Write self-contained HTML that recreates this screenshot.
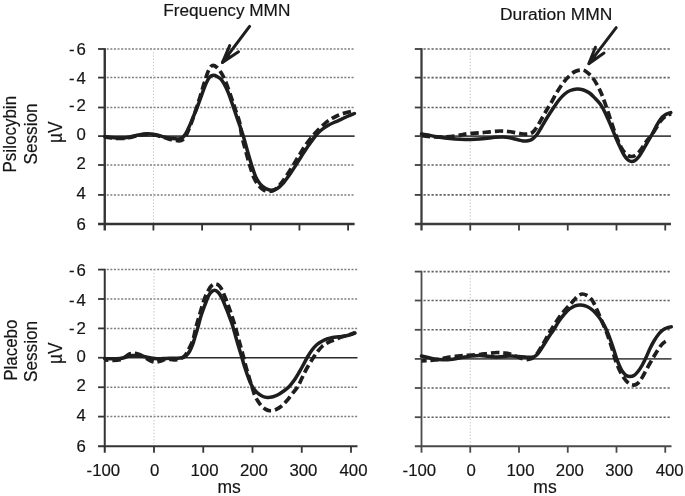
<!DOCTYPE html>
<html lang="en"><head><meta charset="utf-8"><title>MMN waveforms</title>
<style>html,body{margin:0;padding:0;background:#fff}svg{display:block}</style></head>
<body>
<svg width="685" height="496" viewBox="0 0 685 496" font-family="'Liberation Sans', Arial, Helvetica, sans-serif" fill="#151515">
<rect width="685" height="496" fill="#fff"/>
<line x1="106.75" y1="49.00" x2="354.60" y2="49.00" stroke="#7e7e7e" stroke-width="1.5" stroke-dasharray="2 1.6"/>
<line x1="106.75" y1="77.60" x2="354.60" y2="77.60" stroke="#7e7e7e" stroke-width="1.5" stroke-dasharray="2 1.6"/>
<line x1="106.75" y1="107.50" x2="354.60" y2="107.50" stroke="#7e7e7e" stroke-width="1.5" stroke-dasharray="2 1.6"/>
<line x1="106.75" y1="165.00" x2="354.60" y2="165.00" stroke="#7e7e7e" stroke-width="1.5" stroke-dasharray="2 1.6"/>
<line x1="106.75" y1="194.90" x2="354.60" y2="194.90" stroke="#7e7e7e" stroke-width="1.5" stroke-dasharray="2 1.6"/>
<line x1="153.42" y1="49.00" x2="153.42" y2="224.00" stroke="#c2c2c2" stroke-width="1" stroke-dasharray="1.3 1.9"/>
<line x1="104.75" y1="136.10" x2="354.60" y2="136.10" stroke="#3c3c3c" stroke-width="1.7"/>
<line x1="104.75" y1="48.20" x2="104.75" y2="230.50" stroke="#333" stroke-width="2.40"/>
<line x1="98.05" y1="224.00" x2="354.60" y2="224.00" stroke="#333" stroke-width="2.40"/>
<line x1="98.05" y1="49.00" x2="104.75" y2="49.00" stroke="#333" stroke-width="1.8"/>
<line x1="98.05" y1="77.60" x2="104.75" y2="77.60" stroke="#333" stroke-width="1.8"/>
<line x1="98.05" y1="107.50" x2="104.75" y2="107.50" stroke="#333" stroke-width="1.8"/>
<line x1="98.05" y1="136.10" x2="104.75" y2="136.10" stroke="#333" stroke-width="1.8"/>
<line x1="98.05" y1="165.00" x2="104.75" y2="165.00" stroke="#333" stroke-width="1.8"/>
<line x1="98.05" y1="194.90" x2="104.75" y2="194.90" stroke="#333" stroke-width="1.8"/>
<line x1="153.42" y1="224.00" x2="153.42" y2="230.50" stroke="#333" stroke-width="1.8"/>
<line x1="202.09" y1="224.00" x2="202.09" y2="230.50" stroke="#333" stroke-width="1.8"/>
<line x1="250.76" y1="224.00" x2="250.76" y2="230.50" stroke="#333" stroke-width="1.8"/>
<line x1="299.43" y1="224.00" x2="299.43" y2="230.50" stroke="#333" stroke-width="1.8"/>
<line x1="348.10" y1="224.00" x2="348.10" y2="230.50" stroke="#333" stroke-width="1.8"/>
<line x1="423.50" y1="49.00" x2="671.00" y2="49.00" stroke="#606060" stroke-width="1.6" stroke-dasharray="2.2 1.8"/>
<line x1="423.50" y1="77.60" x2="671.00" y2="77.60" stroke="#606060" stroke-width="1.6" stroke-dasharray="2.2 1.8"/>
<line x1="423.50" y1="107.50" x2="671.00" y2="107.50" stroke="#606060" stroke-width="1.6" stroke-dasharray="2.2 1.8"/>
<line x1="423.50" y1="165.00" x2="671.00" y2="165.00" stroke="#606060" stroke-width="1.6" stroke-dasharray="2.2 1.8"/>
<line x1="423.50" y1="194.90" x2="671.00" y2="194.90" stroke="#606060" stroke-width="1.6" stroke-dasharray="2.2 1.8"/>
<line x1="470.25" y1="49.00" x2="470.25" y2="224.00" stroke="#c2c2c2" stroke-width="1" stroke-dasharray="1.3 1.9"/>
<line x1="421.50" y1="136.10" x2="671.00" y2="136.10" stroke="#444" stroke-width="1.7"/>
<line x1="421.50" y1="48.20" x2="421.50" y2="230.50" stroke="#3c3c3c" stroke-width="2.30"/>
<line x1="414.80" y1="224.00" x2="671.00" y2="224.00" stroke="#3c3c3c" stroke-width="2.30"/>
<line x1="414.80" y1="49.00" x2="421.50" y2="49.00" stroke="#3c3c3c" stroke-width="1.8"/>
<line x1="414.80" y1="77.60" x2="421.50" y2="77.60" stroke="#3c3c3c" stroke-width="1.8"/>
<line x1="414.80" y1="107.50" x2="421.50" y2="107.50" stroke="#3c3c3c" stroke-width="1.8"/>
<line x1="414.80" y1="136.10" x2="421.50" y2="136.10" stroke="#3c3c3c" stroke-width="1.8"/>
<line x1="414.80" y1="165.00" x2="421.50" y2="165.00" stroke="#3c3c3c" stroke-width="1.8"/>
<line x1="414.80" y1="194.90" x2="421.50" y2="194.90" stroke="#3c3c3c" stroke-width="1.8"/>
<line x1="470.25" y1="224.00" x2="470.25" y2="230.50" stroke="#3c3c3c" stroke-width="1.8"/>
<line x1="519.00" y1="224.00" x2="519.00" y2="230.50" stroke="#3c3c3c" stroke-width="1.8"/>
<line x1="567.75" y1="224.00" x2="567.75" y2="230.50" stroke="#3c3c3c" stroke-width="1.8"/>
<line x1="616.50" y1="224.00" x2="616.50" y2="230.50" stroke="#3c3c3c" stroke-width="1.8"/>
<line x1="665.25" y1="224.00" x2="665.25" y2="230.50" stroke="#3c3c3c" stroke-width="1.8"/>
<line x1="106.75" y1="269.60" x2="357.50" y2="269.60" stroke="#7e7e7e" stroke-width="1.5" stroke-dasharray="2 1.6"/>
<line x1="106.75" y1="299.00" x2="357.50" y2="299.00" stroke="#7e7e7e" stroke-width="1.5" stroke-dasharray="2 1.6"/>
<line x1="106.75" y1="328.40" x2="357.50" y2="328.40" stroke="#7e7e7e" stroke-width="1.5" stroke-dasharray="2 1.6"/>
<line x1="106.75" y1="387.25" x2="357.50" y2="387.25" stroke="#7e7e7e" stroke-width="1.5" stroke-dasharray="2 1.6"/>
<line x1="106.75" y1="416.60" x2="357.50" y2="416.60" stroke="#7e7e7e" stroke-width="1.5" stroke-dasharray="2 1.6"/>
<line x1="154.00" y1="269.60" x2="154.00" y2="446.25" stroke="#c2c2c2" stroke-width="1" stroke-dasharray="1.3 1.9"/>
<line x1="104.75" y1="357.75" x2="357.50" y2="357.75" stroke="#2a2a2a" stroke-width="1.7"/>
<line x1="104.75" y1="268.80" x2="104.75" y2="452.75" stroke="#333" stroke-width="2.00"/>
<line x1="98.05" y1="446.25" x2="357.50" y2="446.25" stroke="#333" stroke-width="2.00"/>
<line x1="98.05" y1="269.60" x2="104.75" y2="269.60" stroke="#333" stroke-width="1.8"/>
<line x1="98.05" y1="299.00" x2="104.75" y2="299.00" stroke="#333" stroke-width="1.8"/>
<line x1="98.05" y1="328.40" x2="104.75" y2="328.40" stroke="#333" stroke-width="1.8"/>
<line x1="98.05" y1="357.75" x2="104.75" y2="357.75" stroke="#333" stroke-width="1.8"/>
<line x1="98.05" y1="387.25" x2="104.75" y2="387.25" stroke="#333" stroke-width="1.8"/>
<line x1="98.05" y1="416.60" x2="104.75" y2="416.60" stroke="#333" stroke-width="1.8"/>
<line x1="154.00" y1="446.25" x2="154.00" y2="452.75" stroke="#333" stroke-width="1.8"/>
<line x1="203.25" y1="446.25" x2="203.25" y2="452.75" stroke="#333" stroke-width="1.8"/>
<line x1="252.50" y1="446.25" x2="252.50" y2="452.75" stroke="#333" stroke-width="1.8"/>
<line x1="301.75" y1="446.25" x2="301.75" y2="452.75" stroke="#333" stroke-width="1.8"/>
<line x1="351.00" y1="446.25" x2="351.00" y2="452.75" stroke="#333" stroke-width="1.8"/>
<line x1="423.50" y1="271.60" x2="671.50" y2="271.60" stroke="#606060" stroke-width="1.6" stroke-dasharray="2.2 1.8"/>
<line x1="423.50" y1="300.50" x2="671.50" y2="300.50" stroke="#606060" stroke-width="1.6" stroke-dasharray="2.2 1.8"/>
<line x1="423.50" y1="329.80" x2="671.50" y2="329.80" stroke="#606060" stroke-width="1.6" stroke-dasharray="2.2 1.8"/>
<line x1="423.50" y1="388.00" x2="671.50" y2="388.00" stroke="#606060" stroke-width="1.6" stroke-dasharray="2.2 1.8"/>
<line x1="423.50" y1="417.20" x2="671.50" y2="417.20" stroke="#606060" stroke-width="1.6" stroke-dasharray="2.2 1.8"/>
<line x1="470.25" y1="271.60" x2="470.25" y2="446.25" stroke="#c2c2c2" stroke-width="1" stroke-dasharray="1.3 1.9"/>
<line x1="421.50" y1="358.90" x2="671.50" y2="358.90" stroke="#505050" stroke-width="1.7"/>
<line x1="421.50" y1="270.80" x2="421.50" y2="452.75" stroke="#4a4a4a" stroke-width="1.80"/>
<line x1="414.80" y1="446.25" x2="671.50" y2="446.25" stroke="#4a4a4a" stroke-width="1.80"/>
<line x1="414.80" y1="271.60" x2="421.50" y2="271.60" stroke="#4a4a4a" stroke-width="1.8"/>
<line x1="414.80" y1="300.50" x2="421.50" y2="300.50" stroke="#4a4a4a" stroke-width="1.8"/>
<line x1="414.80" y1="329.80" x2="421.50" y2="329.80" stroke="#4a4a4a" stroke-width="1.8"/>
<line x1="414.80" y1="358.90" x2="421.50" y2="358.90" stroke="#4a4a4a" stroke-width="1.8"/>
<line x1="414.80" y1="388.00" x2="421.50" y2="388.00" stroke="#4a4a4a" stroke-width="1.8"/>
<line x1="414.80" y1="417.20" x2="421.50" y2="417.20" stroke="#4a4a4a" stroke-width="1.8"/>
<line x1="470.25" y1="446.25" x2="470.25" y2="452.75" stroke="#4a4a4a" stroke-width="1.8"/>
<line x1="519.00" y1="446.25" x2="519.00" y2="452.75" stroke="#4a4a4a" stroke-width="1.8"/>
<line x1="567.75" y1="446.25" x2="567.75" y2="452.75" stroke="#4a4a4a" stroke-width="1.8"/>
<line x1="616.50" y1="446.25" x2="616.50" y2="452.75" stroke="#4a4a4a" stroke-width="1.8"/>
<line x1="665.25" y1="446.25" x2="665.25" y2="452.75" stroke="#4a4a4a" stroke-width="1.8"/>
<path d="M104.75,137.00C105.96,137.17 109.12,137.75 112.00,138.00C114.88,138.25 119.00,138.58 122.00,138.50C125.00,138.42 127.33,138.00 130.00,137.50C132.67,137.00 135.17,136.03 138.00,135.50C140.83,134.97 144.00,134.33 147.00,134.30C150.00,134.27 153.00,134.72 156.00,135.30C159.00,135.88 162.33,137.05 165.00,137.80C167.67,138.55 169.67,139.30 172.00,139.80C174.33,140.30 177.17,140.85 179.00,140.80C180.83,140.75 181.75,140.55 183.00,139.50C184.25,138.45 185.33,136.67 186.50,134.50C187.67,132.33 188.83,129.42 190.00,126.50C191.17,123.58 192.33,120.33 193.50,117.00C194.67,113.67 195.92,109.83 197.00,106.50C198.08,103.17 199.00,100.25 200.00,97.00C201.00,93.75 202.00,90.25 203.00,87.00C204.00,83.75 205.00,80.42 206.00,77.50C207.00,74.58 207.92,71.50 209.00,69.50C210.08,67.50 211.17,65.83 212.50,65.50C213.83,65.17 215.58,66.33 217.00,67.50C218.42,68.67 219.75,70.58 221.00,72.50C222.25,74.42 223.33,76.42 224.50,79.00C225.67,81.58 226.83,84.83 228.00,88.00C229.17,91.17 230.33,94.58 231.50,98.00C232.67,101.42 233.67,104.50 235.00,108.50C236.33,112.50 238.37,117.42 239.50,122.00C240.63,126.58 240.78,131.25 241.80,136.00C242.82,140.75 244.30,145.67 245.60,150.50C246.90,155.33 248.23,160.50 249.60,165.00C250.97,169.50 252.35,174.17 253.80,177.50C255.25,180.83 256.68,182.95 258.30,185.00C259.92,187.05 261.63,188.72 263.50,189.80C265.37,190.88 267.53,191.55 269.50,191.50C271.47,191.45 273.38,190.83 275.30,189.50C277.22,188.17 279.05,185.92 281.00,183.50C282.95,181.08 285.00,178.00 287.00,175.00C289.00,172.00 291.00,168.75 293.00,165.50C295.00,162.25 296.83,159.00 299.00,155.50C301.17,152.00 303.58,147.92 306.00,144.50C308.42,141.08 311.33,137.58 313.50,135.00C315.67,132.42 316.98,131.03 319.00,129.00C321.02,126.97 323.60,124.47 325.60,122.80C327.60,121.13 329.23,120.10 331.00,119.00C332.77,117.90 334.42,117.05 336.25,116.20C338.08,115.35 339.92,114.60 342.00,113.90C344.08,113.20 346.68,112.50 348.75,112.00C350.82,111.50 353.46,111.08 354.40,110.90" fill="none" stroke="#1e1e1e" stroke-width="3.7" stroke-linecap="butt" stroke-linejoin="round" stroke-dasharray="8.3 3.9" stroke-dashoffset="0.9"/>
<path d="M104.75,136.50C105.96,136.67 109.12,137.25 112.00,137.50C114.88,137.75 119.00,138.08 122.00,138.00C125.00,137.92 127.33,137.50 130.00,137.00C132.67,136.50 135.17,135.53 138.00,135.00C140.83,134.47 144.00,133.83 147.00,133.80C150.00,133.77 153.00,134.23 156.00,134.80C159.00,135.37 162.33,136.60 165.00,137.20C167.67,137.80 169.83,138.12 172.00,138.40C174.17,138.68 176.33,138.97 178.00,138.90C179.67,138.83 180.75,138.82 182.00,138.00C183.25,137.18 184.33,135.83 185.50,134.00C186.67,132.17 187.75,129.75 189.00,127.00C190.25,124.25 191.58,120.92 193.00,117.50C194.42,114.08 196.17,109.92 197.50,106.50C198.83,103.08 199.92,100.00 201.00,97.00C202.08,94.00 203.00,91.08 204.00,88.50C205.00,85.92 206.00,83.45 207.00,81.50C208.00,79.55 208.95,77.83 210.00,76.80C211.05,75.77 212.13,75.35 213.30,75.30C214.47,75.25 215.55,75.63 217.00,76.50C218.45,77.37 220.17,77.92 222.00,80.50C223.83,83.08 226.08,87.50 228.00,92.00C229.92,96.50 231.75,102.50 233.50,107.50C235.25,112.50 236.87,117.25 238.50,122.00C240.13,126.75 241.83,131.25 243.30,136.00C244.77,140.75 245.92,145.67 247.30,150.50C248.68,155.33 250.15,160.50 251.60,165.00C253.05,169.50 254.52,174.28 256.00,177.50C257.48,180.72 258.87,182.45 260.50,184.30C262.13,186.15 263.97,187.62 265.80,188.60C267.63,189.58 269.58,190.22 271.50,190.20C273.42,190.18 275.33,189.70 277.30,188.50C279.27,187.30 281.30,185.25 283.30,183.00C285.30,180.75 287.30,177.83 289.30,175.00C291.30,172.17 293.30,169.08 295.30,166.00C297.30,162.92 299.10,159.92 301.30,156.50C303.50,153.08 306.01,149.08 308.50,145.50C310.99,141.92 314.00,137.67 316.25,135.00C318.50,132.33 319.92,131.17 322.00,129.50C324.08,127.83 326.58,126.25 328.75,125.00C330.92,123.75 332.92,122.93 335.00,122.00C337.08,121.07 339.25,120.32 341.25,119.40C343.25,118.48 344.81,117.48 347.00,116.50C349.19,115.52 353.17,114.00 354.40,113.50" fill="none" stroke="#1e1e1e" stroke-width="3.5" stroke-linecap="round" stroke-linejoin="round"/>
<path d="M421.50,135.50C422.58,135.67 425.75,136.25 428.00,136.50C430.25,136.75 432.17,136.92 435.00,137.00C437.83,137.08 441.67,137.17 445.00,137.00C448.33,136.83 452.00,136.42 455.00,136.00C458.00,135.58 460.50,134.92 463.00,134.50C465.50,134.08 467.17,133.78 470.00,133.50C472.83,133.22 476.67,133.08 480.00,132.80C483.33,132.52 486.67,132.10 490.00,131.80C493.33,131.50 497.00,131.05 500.00,131.00C503.00,130.95 505.33,131.20 508.00,131.50C510.67,131.80 513.50,132.38 516.00,132.80C518.50,133.22 520.92,133.80 523.00,134.00C525.08,134.20 526.83,134.33 528.50,134.00C530.17,133.67 531.50,133.33 533.00,132.00C534.50,130.67 535.83,128.58 537.50,126.00C539.17,123.42 541.42,119.25 543.00,116.50C544.58,113.75 545.67,111.75 547.00,109.50C548.33,107.25 549.42,105.75 551.00,103.00C552.58,100.25 554.50,96.33 556.50,93.00C558.50,89.67 560.87,85.83 563.00,83.00C565.13,80.17 567.30,77.92 569.30,76.00C571.30,74.08 573.05,72.50 575.00,71.50C576.95,70.50 579.17,70.00 581.00,70.00C582.83,70.00 584.08,70.25 586.00,71.50C587.92,72.75 590.50,75.00 592.50,77.50C594.50,80.00 596.42,83.58 598.00,86.50C599.58,89.42 600.67,91.75 602.00,95.00C603.33,98.25 604.67,102.17 606.00,106.00C607.33,109.83 608.67,114.00 610.00,118.00C611.33,122.00 612.83,126.67 614.00,130.00C615.17,133.33 615.83,135.17 617.00,138.00C618.17,140.83 619.67,144.50 621.00,147.00C622.33,149.50 623.67,151.50 625.00,153.00C626.33,154.50 627.83,155.42 629.00,156.00C630.17,156.58 631.00,156.58 632.00,156.50C633.00,156.42 633.83,156.25 635.00,155.50C636.17,154.75 637.67,153.50 639.00,152.00C640.33,150.50 641.67,148.42 643.00,146.50C644.33,144.58 645.53,142.42 647.00,140.50C648.47,138.58 650.22,137.17 651.80,135.00C653.38,132.83 654.97,129.92 656.50,127.50C658.03,125.08 659.42,122.42 661.00,120.50C662.58,118.58 664.33,117.12 666.00,116.00C667.67,114.88 670.17,114.17 671.00,113.80" fill="none" stroke="#1e1e1e" stroke-width="3.7" stroke-linecap="butt" stroke-linejoin="round" stroke-dasharray="8.3 3.9" stroke-dashoffset="11.7"/>
<path d="M421.50,134.00C422.58,134.17 425.75,134.58 428.00,135.00C430.25,135.42 432.17,136.00 435.00,136.50C437.83,137.00 441.67,137.58 445.00,138.00C448.33,138.42 451.67,138.75 455.00,139.00C458.33,139.25 461.67,139.45 465.00,139.50C468.33,139.55 471.67,139.47 475.00,139.30C478.33,139.13 481.67,138.83 485.00,138.50C488.33,138.17 492.00,137.55 495.00,137.30C498.00,137.05 500.50,136.92 503.00,137.00C505.50,137.08 507.67,137.38 510.00,137.80C512.33,138.22 514.83,138.97 517.00,139.50C519.17,140.03 521.17,140.78 523.00,141.00C524.83,141.22 526.42,141.13 528.00,140.80C529.58,140.47 531.00,140.05 532.50,139.00C534.00,137.95 535.58,136.33 537.00,134.50C538.42,132.67 539.30,130.83 541.00,128.00C542.70,125.17 545.08,120.92 547.20,117.50C549.32,114.08 551.73,110.42 553.70,107.50C555.67,104.58 557.17,102.25 559.00,100.00C560.83,97.75 562.82,95.58 564.70,94.00C566.58,92.42 568.25,91.33 570.30,90.50C572.35,89.67 574.80,89.08 577.00,89.00C579.20,88.92 581.42,89.33 583.50,90.00C585.58,90.67 587.53,91.58 589.50,93.00C591.47,94.42 593.52,96.67 595.30,98.50C597.08,100.33 598.83,102.17 600.20,104.00C601.57,105.83 602.20,107.00 603.50,109.50C604.80,112.00 606.53,115.75 608.00,119.00C609.47,122.25 611.05,126.00 612.30,129.00C613.55,132.00 614.22,134.00 615.50,137.00C616.78,140.00 618.58,144.00 620.00,147.00C621.42,150.00 622.67,152.83 624.00,155.00C625.33,157.17 626.75,158.92 628.00,160.00C629.25,161.08 630.33,161.42 631.50,161.50C632.67,161.58 633.75,161.33 635.00,160.50C636.25,159.67 637.67,158.25 639.00,156.50C640.33,154.75 641.67,152.25 643.00,150.00C644.33,147.75 645.67,145.29 647.00,143.00C648.33,140.71 649.55,138.87 651.00,136.25C652.45,133.63 654.15,130.09 655.70,127.30C657.25,124.51 658.70,121.58 660.30,119.50C661.90,117.42 663.55,115.95 665.30,114.80C667.05,113.65 669.88,112.97 670.80,112.60" fill="none" stroke="#1e1e1e" stroke-width="3.5" stroke-linecap="round" stroke-linejoin="round"/>
<path d="M104.75,360.00C105.96,360.05 109.46,360.33 112.00,360.30C114.54,360.27 117.83,360.35 120.00,359.80C122.17,359.25 123.50,357.92 125.00,357.00C126.50,356.08 127.67,354.92 129.00,354.30C130.33,353.68 131.50,353.35 133.00,353.30C134.50,353.25 136.17,353.42 138.00,354.00C139.83,354.58 142.00,355.72 144.00,356.80C146.00,357.88 148.17,359.58 150.00,360.50C151.83,361.42 153.33,362.17 155.00,362.30C156.67,362.43 158.33,361.77 160.00,361.30C161.67,360.83 163.33,359.83 165.00,359.50C166.67,359.17 168.33,359.25 170.00,359.30C171.67,359.35 173.50,359.80 175.00,359.80C176.50,359.80 177.58,359.77 179.00,359.30C180.42,358.83 182.25,357.97 183.50,357.00C184.75,356.03 185.53,355.00 186.50,353.50C187.47,352.00 188.42,349.75 189.30,348.00C190.18,346.25 191.05,344.83 191.80,343.00C192.55,341.17 193.10,339.67 193.80,337.00C194.50,334.33 195.05,330.67 196.00,327.00C196.95,323.33 198.13,319.58 199.50,315.00C200.87,310.42 202.68,303.67 204.20,299.50C205.72,295.33 207.22,292.45 208.60,290.00C209.98,287.55 211.27,285.80 212.50,284.80C213.73,283.80 214.85,283.80 216.00,284.00C217.15,284.20 218.40,285.00 219.40,286.00C220.40,287.00 220.95,287.88 222.00,290.00C223.05,292.12 224.57,295.92 225.70,298.75C226.83,301.58 227.82,304.29 228.80,307.00C229.78,309.71 230.52,311.67 231.60,315.00C232.68,318.33 234.23,323.33 235.30,327.00C236.37,330.67 237.08,333.67 238.00,337.00C238.92,340.33 239.88,343.67 240.80,347.00C241.72,350.33 242.58,353.50 243.50,357.00C244.42,360.50 245.33,364.50 246.30,368.00C247.27,371.50 248.30,374.67 249.30,378.00C250.30,381.33 251.35,385.00 252.30,388.00C253.25,391.00 253.97,393.67 255.00,396.00C256.03,398.33 257.33,400.25 258.50,402.00C259.67,403.75 260.75,405.25 262.00,406.50C263.25,407.75 264.67,408.79 266.00,409.50C267.33,410.21 268.50,410.67 270.00,410.75C271.50,410.83 273.17,410.71 275.00,410.00C276.83,409.29 279.00,408.08 281.00,406.50C283.00,404.92 285.17,402.58 287.00,400.50C288.83,398.42 290.25,396.25 292.00,394.00C293.75,391.75 295.83,389.67 297.50,387.00C299.17,384.33 300.42,381.17 302.00,378.00C303.58,374.83 305.04,371.50 307.00,368.00C308.96,364.50 311.92,359.83 313.75,357.00C315.58,354.17 316.62,352.75 318.00,351.00C319.38,349.25 320.67,347.71 322.00,346.50C323.33,345.29 324.67,344.58 326.00,343.75C327.33,342.92 328.50,342.21 330.00,341.50C331.50,340.79 333.33,340.17 335.00,339.50C336.67,338.83 338.33,338.08 340.00,337.50C341.67,336.92 343.33,336.50 345.00,336.00C346.67,335.50 348.33,335.08 350.00,334.50C351.67,333.92 354.17,332.83 355.00,332.50" fill="none" stroke="#1e1e1e" stroke-width="3.7" stroke-linecap="butt" stroke-linejoin="round" stroke-dasharray="8.3 3.9" stroke-dashoffset="4.6"/>
<path d="M104.75,358.60C105.96,358.63 109.46,358.83 112.00,358.80C114.54,358.77 117.83,358.63 120.00,358.40C122.17,358.17 123.50,357.80 125.00,357.40C126.50,357.00 127.67,356.30 129.00,356.00C130.33,355.70 131.50,355.63 133.00,355.60C134.50,355.57 136.17,355.63 138.00,355.80C139.83,355.97 142.00,356.27 144.00,356.60C146.00,356.93 147.83,357.43 150.00,357.80C152.17,358.17 154.83,358.67 157.00,358.80C159.17,358.93 160.83,358.70 163.00,358.60C165.17,358.50 167.67,358.25 170.00,358.20C172.33,358.15 175.00,358.37 177.00,358.30C179.00,358.23 180.50,358.22 182.00,357.80C183.50,357.38 184.75,356.85 186.00,355.80C187.25,354.75 188.45,353.22 189.50,351.50C190.55,349.78 191.38,347.92 192.30,345.50C193.22,343.08 194.05,340.08 195.00,337.00C195.95,333.92 196.95,330.67 198.00,327.00C199.05,323.33 199.83,319.50 201.30,315.00C202.77,310.50 205.35,303.62 206.80,300.00C208.25,296.38 208.73,294.93 210.00,293.30C211.27,291.67 212.93,290.25 214.40,290.20C215.87,290.15 217.48,291.53 218.80,293.00C220.12,294.47 221.17,296.67 222.30,299.00C223.43,301.33 224.52,304.33 225.60,307.00C226.68,309.67 227.90,312.67 228.80,315.00C229.70,317.33 230.30,319.00 231.00,321.00C231.70,323.00 232.20,324.33 233.00,327.00C233.80,329.67 234.85,333.67 235.80,337.00C236.75,340.33 237.71,343.67 238.70,347.00C239.69,350.33 240.70,353.50 241.75,357.00C242.80,360.50 243.88,364.50 245.00,368.00C246.12,371.50 247.25,374.83 248.50,378.00C249.75,381.17 251.08,384.58 252.50,387.00C253.92,389.42 255.42,391.00 257.00,392.50C258.58,394.00 260.25,395.17 262.00,396.00C263.75,396.83 265.67,397.37 267.50,397.50C269.33,397.63 271.25,397.25 273.00,396.80C274.75,396.35 276.33,395.68 278.00,394.80C279.67,393.92 281.21,392.80 283.00,391.50C284.79,390.20 286.92,388.83 288.75,387.00C290.58,385.17 292.29,382.92 294.00,380.50C295.71,378.08 297.42,375.17 299.00,372.50C300.58,369.83 302.08,367.08 303.50,364.50C304.92,361.92 306.08,359.42 307.50,357.00C308.92,354.58 310.42,352.08 312.00,350.00C313.58,347.92 315.25,346.00 317.00,344.50C318.75,343.00 320.83,341.92 322.50,341.00C324.17,340.08 325.33,339.58 327.00,339.00C328.67,338.42 330.50,337.87 332.50,337.50C334.50,337.13 336.92,337.05 339.00,336.80C341.08,336.55 343.17,336.33 345.00,336.00C346.83,335.67 348.33,335.30 350.00,334.80C351.67,334.30 354.17,333.30 355.00,333.00" fill="none" stroke="#1e1e1e" stroke-width="3.5" stroke-linecap="round" stroke-linejoin="round"/>
<path d="M421.50,361.00C422.58,360.92 425.75,360.67 428.00,360.50C430.25,360.33 432.50,360.33 435.00,360.00C437.50,359.67 440.50,359.00 443.00,358.50C445.50,358.00 447.50,357.38 450.00,357.00C452.50,356.62 455.50,356.45 458.00,356.20C460.50,355.95 462.67,355.70 465.00,355.50C467.33,355.30 469.50,355.17 472.00,355.00C474.50,354.83 477.33,354.75 480.00,354.50C482.67,354.25 485.17,353.83 488.00,353.50C490.83,353.17 494.33,352.58 497.00,352.50C499.67,352.42 501.83,352.75 504.00,353.00C506.17,353.25 507.67,353.33 510.00,354.00C512.33,354.67 515.50,356.08 518.00,357.00C520.50,357.92 523.00,359.17 525.00,359.50C527.00,359.83 528.50,359.42 530.00,359.00C531.50,358.58 532.75,358.00 534.00,357.00C535.25,356.00 536.33,354.58 537.50,353.00C538.67,351.42 539.83,349.42 541.00,347.50C542.17,345.58 543.33,343.58 544.50,341.50C545.67,339.42 546.75,337.17 548.00,335.00C549.25,332.83 550.50,330.92 552.00,328.50C553.50,326.08 555.33,323.00 557.00,320.50C558.67,318.00 560.33,315.62 562.00,313.50C563.67,311.38 565.50,309.47 567.00,307.80C568.50,306.13 569.75,304.88 571.00,303.50C572.25,302.12 573.28,300.78 574.50,299.50C575.72,298.22 576.97,296.72 578.30,295.80C579.63,294.88 581.05,294.05 582.50,294.00C583.95,293.95 585.75,294.83 587.00,295.50C588.25,296.17 589.08,297.12 590.00,298.00C590.92,298.88 591.58,299.38 592.50,300.80C593.42,302.22 594.42,304.22 595.50,306.50C596.58,308.78 597.82,311.75 599.00,314.50C600.18,317.25 601.38,320.17 602.60,323.00C603.82,325.83 605.13,328.50 606.30,331.50C607.47,334.50 608.57,337.92 609.60,341.00C610.63,344.08 611.60,347.02 612.50,350.00C613.40,352.98 614.00,355.90 615.00,358.90C616.00,361.90 617.28,365.23 618.50,368.00C619.72,370.77 621.00,373.33 622.30,375.50C623.60,377.67 625.05,379.58 626.30,381.00C627.55,382.42 628.68,383.33 629.80,384.00C630.92,384.67 631.97,384.92 633.00,385.00C634.03,385.08 634.92,385.08 636.00,384.50C637.08,383.92 638.33,382.92 639.50,381.50C640.67,380.08 641.75,378.17 643.00,376.00C644.25,373.83 645.42,371.35 647.00,368.50C648.58,365.65 650.96,361.57 652.50,358.90C654.04,356.23 655.08,354.40 656.25,352.50C657.42,350.60 658.46,348.96 659.50,347.50C660.54,346.04 661.50,344.75 662.50,343.75C663.50,342.75 664.46,342.12 665.50,341.50C666.54,340.88 668.21,340.25 668.75,340.00" fill="none" stroke="#1e1e1e" stroke-width="3.7" stroke-linecap="butt" stroke-linejoin="round" stroke-dasharray="8.3 3.9" stroke-dashoffset="3.2"/>
<path d="M421.50,356.00C422.58,356.25 425.75,357.00 428.00,357.50C430.25,358.00 432.50,358.63 435.00,359.00C437.50,359.37 440.50,359.62 443.00,359.70C445.50,359.78 447.50,359.73 450.00,359.50C452.50,359.27 455.50,358.72 458.00,358.30C460.50,357.88 462.67,357.38 465.00,357.00C467.33,356.62 469.50,356.25 472.00,356.00C474.50,355.75 477.33,355.45 480.00,355.50C482.67,355.55 485.50,356.05 488.00,356.30C490.50,356.55 492.50,356.97 495.00,357.00C497.50,357.03 500.50,356.67 503.00,356.50C505.50,356.33 507.50,356.00 510.00,356.00C512.50,356.00 515.50,356.33 518.00,356.50C520.50,356.67 523.00,356.87 525.00,357.00C527.00,357.13 528.42,357.38 530.00,357.30C531.58,357.22 533.17,357.13 534.50,356.50C535.83,355.87 536.83,354.83 538.00,353.50C539.17,352.17 540.33,350.25 541.50,348.50C542.67,346.75 543.75,345.00 545.00,343.00C546.25,341.00 547.55,338.70 549.00,336.50C550.45,334.30 552.08,332.30 553.70,329.80C555.32,327.30 556.98,324.05 558.70,321.50C560.42,318.95 562.20,316.58 564.00,314.50C565.80,312.42 567.67,310.45 569.50,309.00C571.33,307.55 573.08,306.47 575.00,305.80C576.92,305.13 579.00,304.88 581.00,305.00C583.00,305.12 585.00,305.58 587.00,306.50C589.00,307.42 591.17,308.92 593.00,310.50C594.83,312.08 596.45,314.08 598.00,316.00C599.55,317.92 600.90,319.70 602.30,322.00C603.70,324.30 605.03,326.80 606.40,329.80C607.77,332.80 609.30,336.80 610.50,340.00C611.70,343.20 612.57,345.85 613.60,349.00C614.63,352.15 615.70,356.07 616.70,358.90C617.70,361.73 618.63,363.90 619.60,366.00C620.57,368.10 621.40,369.92 622.50,371.50C623.60,373.08 624.95,374.67 626.20,375.50C627.45,376.33 628.70,376.50 630.00,376.50C631.30,376.50 632.67,376.33 634.00,375.50C635.33,374.67 636.67,373.17 638.00,371.50C639.33,369.83 640.62,367.92 642.00,365.50C643.38,363.08 644.92,359.83 646.25,357.00C647.58,354.17 648.71,351.17 650.00,348.50C651.29,345.83 652.54,343.42 654.00,341.00C655.46,338.58 657.25,335.87 658.75,334.00C660.25,332.13 661.62,330.83 663.00,329.80C664.38,328.77 665.62,328.28 667.00,327.80C668.38,327.32 670.54,327.05 671.25,326.90" fill="none" stroke="#1e1e1e" stroke-width="3.5" stroke-linecap="round" stroke-linejoin="round"/>
<g stroke="#1e1e1e" stroke-width="3" fill="none" stroke-linecap="round" stroke-linejoin="round"><line x1="249.6" y1="26.4" x2="222.8" y2="62.0"/><polyline points="229.7,45.6 222.4,62.6 238.5,51.8"/><polygon points="222.4,62.6 226.1,53.7 230.9,57.1" fill="#1e1e1e" stroke-width="1.5"/></g>
<g stroke="#1e1e1e" stroke-width="3" fill="none" stroke-linecap="round" stroke-linejoin="round"><line x1="616.2" y1="27.6" x2="589.2" y2="63.1"/><polyline points="595.4,47.2 588.8,63.7 604.0,53.0"/><polygon points="588.8,63.7 592.1,55.1 596.8,58.3" fill="#1e1e1e" stroke-width="1.5"/></g>
<text x="163.2" y="16.4" font-size="17.3" textLength="127.2" lengthAdjust="spacingAndGlyphs" stroke="#151515" stroke-width="0.18">Frequency MMN</text>
<text x="500" y="20.1" font-size="17.3" textLength="112.3" lengthAdjust="spacingAndGlyphs" stroke="#151515" stroke-width="0.18">Duration MMN</text>
<text x="69.0" y="54.8" font-size="16.8" stroke="#151515" stroke-width="0.18">-</text>
<text x="85.9" y="54.8" font-size="16.8" text-anchor="end" stroke="#151515" stroke-width="0.18">6</text>
<text x="69.0" y="83.7" font-size="16.8" stroke="#151515" stroke-width="0.18">-</text>
<text x="85.9" y="83.7" font-size="16.8" text-anchor="end" stroke="#151515" stroke-width="0.18">4</text>
<text x="69.0" y="111.3" font-size="16.8" stroke="#151515" stroke-width="0.18">-</text>
<text x="85.9" y="111.3" font-size="16.8" text-anchor="end" stroke="#151515" stroke-width="0.18">2</text>
<text x="85.9" y="140.0" font-size="16.8" text-anchor="end" stroke="#151515" stroke-width="0.18">0</text>
<text x="85.9" y="169.0" font-size="16.8" text-anchor="end" stroke="#151515" stroke-width="0.18">2</text>
<text x="85.9" y="198.5" font-size="16.8" text-anchor="end" stroke="#151515" stroke-width="0.18">4</text>
<text x="85.9" y="229.8" font-size="16.8" text-anchor="end" stroke="#151515" stroke-width="0.18">6</text>
<text x="69.0" y="276.2" font-size="16.8" stroke="#151515" stroke-width="0.18">-</text>
<text x="85.9" y="276.2" font-size="16.8" text-anchor="end" stroke="#151515" stroke-width="0.18">6</text>
<text x="69.0" y="305.6" font-size="16.8" stroke="#151515" stroke-width="0.18">-</text>
<text x="85.9" y="305.6" font-size="16.8" text-anchor="end" stroke="#151515" stroke-width="0.18">4</text>
<text x="69.0" y="333.5" font-size="16.8" stroke="#151515" stroke-width="0.18">-</text>
<text x="85.9" y="333.5" font-size="16.8" text-anchor="end" stroke="#151515" stroke-width="0.18">2</text>
<text x="85.9" y="362.2" font-size="16.8" text-anchor="end" stroke="#151515" stroke-width="0.18">0</text>
<text x="85.9" y="390.8" font-size="16.8" text-anchor="end" stroke="#151515" stroke-width="0.18">2</text>
<text x="85.9" y="420.5" font-size="16.8" text-anchor="end" stroke="#151515" stroke-width="0.18">4</text>
<text x="85.9" y="451.9" font-size="16.8" text-anchor="end" stroke="#151515" stroke-width="0.18">6</text>
<text x="103.4" y="476.0" font-size="16.8" text-anchor="middle" stroke="#151515" stroke-width="0.18">-100</text>
<text x="154.6" y="476.0" font-size="16.8" text-anchor="middle" stroke="#151515" stroke-width="0.18">0</text>
<text x="204.5" y="476.0" font-size="16.8" text-anchor="middle" stroke="#151515" stroke-width="0.18">100</text>
<text x="253.9" y="476.0" font-size="16.8" text-anchor="middle" stroke="#151515" stroke-width="0.18">200</text>
<text x="303.4" y="476.0" font-size="16.8" text-anchor="middle" stroke="#151515" stroke-width="0.18">300</text>
<text x="353.5" y="476.0" font-size="16.8" text-anchor="middle" stroke="#151515" stroke-width="0.18">400</text>
<text x="419.4" y="475.6" font-size="16.8" text-anchor="middle" stroke="#151515" stroke-width="0.18">-100</text>
<text x="471.1" y="475.6" font-size="16.8" text-anchor="middle" stroke="#151515" stroke-width="0.18">0</text>
<text x="520.5" y="475.6" font-size="16.8" text-anchor="middle" stroke="#151515" stroke-width="0.18">100</text>
<text x="569.8" y="475.6" font-size="16.8" text-anchor="middle" stroke="#151515" stroke-width="0.18">200</text>
<text x="619.2" y="475.6" font-size="16.8" text-anchor="middle" stroke="#151515" stroke-width="0.18">300</text>
<text x="669.7" y="475.6" font-size="16.8" text-anchor="middle" stroke="#151515" stroke-width="0.18">400</text>
<text x="229.1" y="493.3" font-size="17.5" text-anchor="middle" stroke="#151515" stroke-width="0.18">ms</text>
<text x="545" y="493.3" font-size="17.5" text-anchor="middle" stroke="#151515" stroke-width="0.18">ms</text>
<text transform="translate(16.0,134.2) rotate(-90)" font-size="17.7" text-anchor="middle" textLength="76.6" lengthAdjust="spacingAndGlyphs" stroke="#151515" stroke-width="0.18">Psilocybin</text>
<text transform="translate(36.8,134.0) rotate(-90)" font-size="17.7" text-anchor="middle" textLength="61.2" lengthAdjust="spacingAndGlyphs" stroke="#151515" stroke-width="0.18">Session</text>
<text transform="translate(62.0,132.2) rotate(-90)" font-size="19.5" text-anchor="middle" textLength="21.4" lengthAdjust="spacingAndGlyphs" stroke="#151515" stroke-width="0.18">µV</text>
<text transform="translate(17.0,350.2) rotate(-90)" font-size="17.7" text-anchor="middle" textLength="61.2" lengthAdjust="spacingAndGlyphs" stroke="#151515" stroke-width="0.18">Placebo</text>
<text transform="translate(37.2,351.5) rotate(-90)" font-size="17.7" text-anchor="middle" textLength="61.2" lengthAdjust="spacingAndGlyphs" stroke="#151515" stroke-width="0.18">Session</text>
<text transform="translate(62.4,353.3) rotate(-90)" font-size="19.5" text-anchor="middle" textLength="21.4" lengthAdjust="spacingAndGlyphs" stroke="#151515" stroke-width="0.18">µV</text>
</svg>
</body></html>
